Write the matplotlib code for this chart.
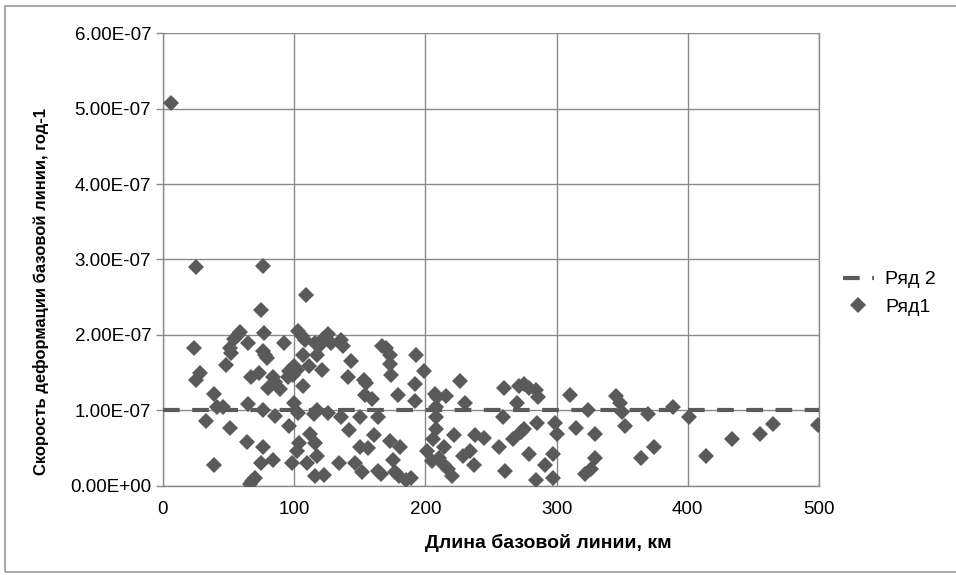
import numpy as np
import matplotlib
matplotlib.use("Agg")
import matplotlib.pyplot as plt
from matplotlib.ticker import FormatStrFormatter, MultipleLocator
from matplotlib.patches import Rectangle

plt.rcParams['font.family'] = ['Liberation Sans', 'DejaVu Sans']

# Ряд1: baseline length (km) and deformation rate (in units of 1e-7 1/yr)
length_km = [6, 25, 76, 109, 75, 24, 25, 28, 59, 57, 54, 51, 52, 48, 65, 67, 73, 77, 76, 78,
             79, 84, 85, 80, 89, 92, 96, 100, 102, 99, 95, 103, 106, 108, 107, 111, 107, 116, 119, 122,
             126, 117, 121, 128, 136, 137, 143, 141, 153, 155, 154, 159, 167, 170, 173, 173, 174, 179, 193, 192,
             192, 199, 207, 209, 216, 226, 230, 260, 271, 275, 279, 284, 270, 286, 310, 345, 348, 350, 370, 389,
             401, 324, 65, 76, 85, 100, 103, 115, 117, 126, 136, 150, 164, 208, 208, 33, 41, 46, 39, 51,
             64, 39, 66, 70, 68, 76, 75, 84, 96, 98, 102, 104, 112, 110, 116, 117, 116, 123, 134, 142,
             146, 150, 156, 152, 161, 164, 166, 173, 175, 177, 180, 181, 185, 189, 201, 205, 206, 208, 210, 214,
             217, 214, 220, 222, 229, 234, 237, 238, 245, 256, 259, 261, 267, 273, 275, 279, 285, 284, 291, 297,
             299, 300, 297, 315, 322, 326, 329, 329, 352, 364, 374, 414, 434, 455, 465, 499]
rate_e7 = [5.07, 2.90, 2.91, 2.53, 2.33, 1.83, 1.41, 1.49, 2.04, 2.00, 1.95, 1.83, 1.76, 1.60, 1.90, 1.44, 1.49, 2.03, 1.79, 1.73,
           1.69, 1.44, 1.38, 1.30, 1.28, 1.90, 1.52, 1.59, 1.54, 1.47, 1.44, 2.05, 1.99, 1.93, 1.73, 1.59, 1.32, 1.90, 1.86, 1.95,
           2.01, 1.73, 1.54, 1.90, 1.93, 1.86, 1.66, 1.44, 1.41, 1.37, 1.20, 1.15, 1.86, 1.83, 1.74, 1.61, 1.47, 1.21, 1.73, 1.35,
           1.13, 1.52, 1.22, 1.18, 1.19, 1.39, 1.10, 1.30, 1.32, 1.35, 1.30, 1.27, 1.10, 1.18, 1.21, 1.19, 1.10, 0.98, 0.96, 1.04,
           0.91, 1.01, 1.08, 1.00, 0.93, 1.10, 0.97, 0.95, 1.01, 0.97, 0.91, 0.91, 0.91, 1.05, 0.91, 0.86, 1.05, 1.05, 1.22, 0.77,
           0.58, 0.28, 0.03, 0.11, 0.06, 0.51, 0.30, 0.35, 0.79, 0.30, 0.47, 0.57, 0.69, 0.30, 0.57, 0.40, 0.13, 0.15, 0.30, 0.74,
           0.30, 0.52, 0.50, 0.18, 0.67, 0.20, 0.16, 0.59, 0.35, 0.18, 0.13, 0.52, 0.08, 0.11, 0.47, 0.33, 0.62, 0.76, 0.37, 0.52,
           0.23, 0.28, 0.13, 0.67, 0.40, 0.47, 0.28, 0.67, 0.64, 0.52, 0.91, 0.20, 0.62, 0.71, 0.76, 0.42, 0.83, 0.08, 0.28, 0.42,
           0.84, 0.69, 0.11, 0.77, 0.16, 0.23, 0.37, 0.69, 0.79, 0.37, 0.52, 0.40, 0.62, 0.69, 0.82, 0.81]

# Ряд 2: reference level
ref_x = [0, 500]
ref_y = [1.0e-7, 1.0e-7]

rate = np.array(rate_e7) * 1e-7

fig = plt.figure(figsize=(9.56, 5.75), dpi=100)
ax = fig.add_axes([0.1705, 0.1548, 0.6862, 0.7878])

grid_c = '#8a8a8a'
mark_c = '#5a5a5a'

ax.plot(ref_x, ref_y, color=mark_c, lw=3.0, linestyle=(0, (4.0, 3.0)), label='Ряд 2', zorder=3)
ax.plot(length_km, rate, linestyle='none', marker='D', markersize=7.8, color=mark_c,
        markeredgewidth=0, label='Ряд1', zorder=4)

ax.set_xlim(0, 500)
ax.set_ylim(0, 6e-7)
ax.xaxis.set_major_locator(MultipleLocator(100))
ax.yaxis.set_major_locator(MultipleLocator(1e-7))
ax.yaxis.set_major_formatter(FormatStrFormatter('%.2E'))
ax.grid(True, color=grid_c, lw=1.0)
ax.set_axisbelow(True)
for s in ax.spines.values():
    s.set_color(grid_c)
    s.set_linewidth(1.0)
ax.spines['top'].set_visible(False)
ax.tick_params(axis='both', colors=grid_c, labelcolor='black', labelsize=13.5, length=5, width=1)
ax.tick_params(axis='x', length=0, pad=11)

ax.set_xlabel('Длина базовой линии, км', fontsize=14, fontweight='bold')
ax.xaxis.set_label_coords(0.588, -0.105)
ax.set_ylabel('Скорость деформации базовой линии, год-1', fontsize=12, fontweight='bold')
ax.yaxis.set_label_coords(-0.174, 0.43)

ax.legend(loc='center left', bbox_to_anchor=(0.863, 0.49), bbox_transform=fig.transFigure,
          frameon=False, fontsize=14, handlelength=1.6, handletextpad=0.6, labelspacing=0.5)

# outer chart frame
fig.patches.append(Rectangle((5 / 956, 3 / 575), 1.0, 1 - 8.5 / 575, transform=fig.transFigure,
                             fill=False, edgecolor='#9a9a9a', lw=1.2))

fig.savefig('out.png', dpi=100)
